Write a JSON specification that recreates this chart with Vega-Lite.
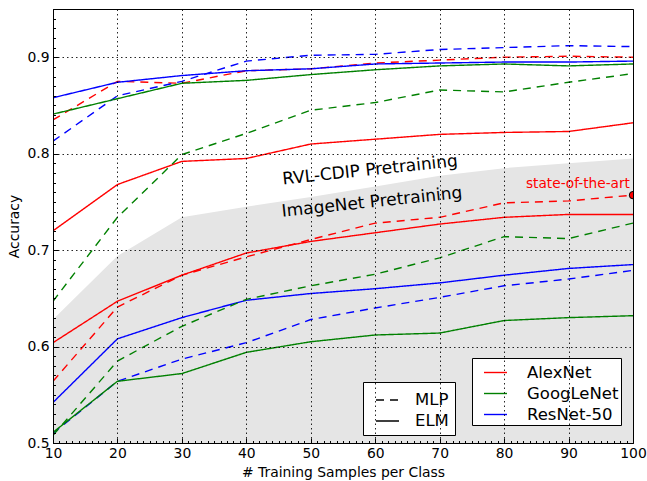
{
  "$schema": "https://vega.github.io/schema/vega-lite/v6.json",
  "width": 580,
  "height": 434,
  "autosize": {"type": "none"},
  "padding": {"left": 53, "top": 9, "right": 14, "bottom": 38},
  "background": "white",
  "config": {
    "font": "DejaVu Sans",
    "view": {"stroke": "black", "strokeWidth": 1}
  },
  "datasets": {
    "shade": [
      {"x": 10, "top": 0.628}, {"x": 20, "top": 0.694}, {"x": 30, "top": 0.734}, {"x": 40, "top": 0.745},
      {"x": 50, "top": 0.755}, {"x": 60, "top": 0.766}, {"x": 70, "top": 0.777}, {"x": 80, "top": 0.785},
      {"x": 90, "top": 0.79}, {"x": 100, "top": 0.795}
    ],
    "sota": [{"x": 100, "a": 0.757, "label": "state-of-the-art"}],
    "acc": [
      {"n": "AlexNet", "m": "ELM", "p": "RVL-CDIP", "x": 10, "a": 0.72},
      {"n": "AlexNet", "m": "ELM", "p": "RVL-CDIP", "x": 20, "a": 0.768},
      {"n": "AlexNet", "m": "ELM", "p": "RVL-CDIP", "x": 30, "a": 0.792},
      {"n": "AlexNet", "m": "ELM", "p": "RVL-CDIP", "x": 40, "a": 0.795},
      {"n": "AlexNet", "m": "ELM", "p": "RVL-CDIP", "x": 50, "a": 0.81},
      {"n": "AlexNet", "m": "ELM", "p": "RVL-CDIP", "x": 60, "a": 0.815},
      {"n": "AlexNet", "m": "ELM", "p": "RVL-CDIP", "x": 70, "a": 0.82},
      {"n": "AlexNet", "m": "ELM", "p": "RVL-CDIP", "x": 80, "a": 0.822},
      {"n": "AlexNet", "m": "ELM", "p": "RVL-CDIP", "x": 90, "a": 0.823},
      {"n": "AlexNet", "m": "ELM", "p": "RVL-CDIP", "x": 100, "a": 0.832},
      {"n": "AlexNet", "m": "MLP", "p": "RVL-CDIP", "x": 10, "a": 0.835},
      {"n": "AlexNet", "m": "MLP", "p": "RVL-CDIP", "x": 20, "a": 0.875},
      {"n": "AlexNet", "m": "MLP", "p": "RVL-CDIP", "x": 30, "a": 0.873},
      {"n": "AlexNet", "m": "MLP", "p": "RVL-CDIP", "x": 40, "a": 0.886},
      {"n": "AlexNet", "m": "MLP", "p": "RVL-CDIP", "x": 50, "a": 0.888},
      {"n": "AlexNet", "m": "MLP", "p": "RVL-CDIP", "x": 60, "a": 0.894},
      {"n": "AlexNet", "m": "MLP", "p": "RVL-CDIP", "x": 70, "a": 0.897},
      {"n": "AlexNet", "m": "MLP", "p": "RVL-CDIP", "x": 80, "a": 0.9},
      {"n": "AlexNet", "m": "MLP", "p": "RVL-CDIP", "x": 90, "a": 0.901},
      {"n": "AlexNet", "m": "MLP", "p": "RVL-CDIP", "x": 100, "a": 0.9},
      {"n": "ResNet-50", "m": "ELM", "p": "RVL-CDIP", "x": 10, "a": 0.858},
      {"n": "ResNet-50", "m": "ELM", "p": "RVL-CDIP", "x": 20, "a": 0.874},
      {"n": "ResNet-50", "m": "ELM", "p": "RVL-CDIP", "x": 30, "a": 0.881},
      {"n": "ResNet-50", "m": "ELM", "p": "RVL-CDIP", "x": 40, "a": 0.886},
      {"n": "ResNet-50", "m": "ELM", "p": "RVL-CDIP", "x": 50, "a": 0.888},
      {"n": "ResNet-50", "m": "ELM", "p": "RVL-CDIP", "x": 60, "a": 0.893},
      {"n": "ResNet-50", "m": "ELM", "p": "RVL-CDIP", "x": 70, "a": 0.894},
      {"n": "ResNet-50", "m": "ELM", "p": "RVL-CDIP", "x": 80, "a": 0.895},
      {"n": "ResNet-50", "m": "ELM", "p": "RVL-CDIP", "x": 90, "a": 0.895},
      {"n": "ResNet-50", "m": "ELM", "p": "RVL-CDIP", "x": 100, "a": 0.896},
      {"n": "ResNet-50", "m": "MLP", "p": "RVL-CDIP", "x": 10, "a": 0.813},
      {"n": "ResNet-50", "m": "MLP", "p": "RVL-CDIP", "x": 20, "a": 0.86},
      {"n": "ResNet-50", "m": "MLP", "p": "RVL-CDIP", "x": 30, "a": 0.875},
      {"n": "ResNet-50", "m": "MLP", "p": "RVL-CDIP", "x": 40, "a": 0.896},
      {"n": "ResNet-50", "m": "MLP", "p": "RVL-CDIP", "x": 50, "a": 0.902},
      {"n": "ResNet-50", "m": "MLP", "p": "RVL-CDIP", "x": 60, "a": 0.903},
      {"n": "ResNet-50", "m": "MLP", "p": "RVL-CDIP", "x": 70, "a": 0.908},
      {"n": "ResNet-50", "m": "MLP", "p": "RVL-CDIP", "x": 80, "a": 0.91},
      {"n": "ResNet-50", "m": "MLP", "p": "RVL-CDIP", "x": 90, "a": 0.912},
      {"n": "ResNet-50", "m": "MLP", "p": "RVL-CDIP", "x": 100, "a": 0.911},
      {"n": "GoogLeNet", "m": "ELM", "p": "RVL-CDIP", "x": 10, "a": 0.841},
      {"n": "GoogLeNet", "m": "ELM", "p": "RVL-CDIP", "x": 20, "a": 0.857},
      {"n": "GoogLeNet", "m": "ELM", "p": "RVL-CDIP", "x": 30, "a": 0.873},
      {"n": "GoogLeNet", "m": "ELM", "p": "RVL-CDIP", "x": 40, "a": 0.876},
      {"n": "GoogLeNet", "m": "ELM", "p": "RVL-CDIP", "x": 50, "a": 0.882},
      {"n": "GoogLeNet", "m": "ELM", "p": "RVL-CDIP", "x": 60, "a": 0.887},
      {"n": "GoogLeNet", "m": "ELM", "p": "RVL-CDIP", "x": 70, "a": 0.891},
      {"n": "GoogLeNet", "m": "ELM", "p": "RVL-CDIP", "x": 80, "a": 0.893},
      {"n": "GoogLeNet", "m": "ELM", "p": "RVL-CDIP", "x": 90, "a": 0.891},
      {"n": "GoogLeNet", "m": "ELM", "p": "RVL-CDIP", "x": 100, "a": 0.893},
      {"n": "GoogLeNet", "m": "MLP", "p": "RVL-CDIP", "x": 10, "a": 0.647},
      {"n": "GoogLeNet", "m": "MLP", "p": "RVL-CDIP", "x": 20, "a": 0.734},
      {"n": "GoogLeNet", "m": "MLP", "p": "RVL-CDIP", "x": 30, "a": 0.799},
      {"n": "GoogLeNet", "m": "MLP", "p": "RVL-CDIP", "x": 40, "a": 0.821},
      {"n": "GoogLeNet", "m": "MLP", "p": "RVL-CDIP", "x": 50, "a": 0.845},
      {"n": "GoogLeNet", "m": "MLP", "p": "RVL-CDIP", "x": 60, "a": 0.853},
      {"n": "GoogLeNet", "m": "MLP", "p": "RVL-CDIP", "x": 70, "a": 0.866},
      {"n": "GoogLeNet", "m": "MLP", "p": "RVL-CDIP", "x": 80, "a": 0.864},
      {"n": "GoogLeNet", "m": "MLP", "p": "RVL-CDIP", "x": 90, "a": 0.874},
      {"n": "GoogLeNet", "m": "MLP", "p": "RVL-CDIP", "x": 100, "a": 0.883},
      {"n": "AlexNet", "m": "ELM", "p": "ImageNet", "x": 10, "a": 0.604},
      {"n": "AlexNet", "m": "ELM", "p": "ImageNet", "x": 20, "a": 0.647},
      {"n": "AlexNet", "m": "ELM", "p": "ImageNet", "x": 30, "a": 0.674},
      {"n": "AlexNet", "m": "ELM", "p": "ImageNet", "x": 40, "a": 0.697},
      {"n": "AlexNet", "m": "ELM", "p": "ImageNet", "x": 50, "a": 0.709},
      {"n": "AlexNet", "m": "ELM", "p": "ImageNet", "x": 60, "a": 0.718},
      {"n": "AlexNet", "m": "ELM", "p": "ImageNet", "x": 70, "a": 0.727},
      {"n": "AlexNet", "m": "ELM", "p": "ImageNet", "x": 80, "a": 0.734},
      {"n": "AlexNet", "m": "ELM", "p": "ImageNet", "x": 90, "a": 0.737},
      {"n": "AlexNet", "m": "ELM", "p": "ImageNet", "x": 100, "a": 0.737},
      {"n": "AlexNet", "m": "MLP", "p": "ImageNet", "x": 10, "a": 0.564},
      {"n": "AlexNet", "m": "MLP", "p": "ImageNet", "x": 20, "a": 0.641},
      {"n": "AlexNet", "m": "MLP", "p": "ImageNet", "x": 30, "a": 0.674},
      {"n": "AlexNet", "m": "MLP", "p": "ImageNet", "x": 40, "a": 0.693},
      {"n": "AlexNet", "m": "MLP", "p": "ImageNet", "x": 50, "a": 0.711},
      {"n": "AlexNet", "m": "MLP", "p": "ImageNet", "x": 60, "a": 0.728},
      {"n": "AlexNet", "m": "MLP", "p": "ImageNet", "x": 70, "a": 0.734},
      {"n": "AlexNet", "m": "MLP", "p": "ImageNet", "x": 80, "a": 0.749},
      {"n": "AlexNet", "m": "MLP", "p": "ImageNet", "x": 90, "a": 0.751},
      {"n": "AlexNet", "m": "MLP", "p": "ImageNet", "x": 100, "a": 0.757},
      {"n": "ResNet-50", "m": "ELM", "p": "ImageNet", "x": 10, "a": 0.542},
      {"n": "ResNet-50", "m": "ELM", "p": "ImageNet", "x": 20, "a": 0.608},
      {"n": "ResNet-50", "m": "ELM", "p": "ImageNet", "x": 30, "a": 0.63},
      {"n": "ResNet-50", "m": "ELM", "p": "ImageNet", "x": 40, "a": 0.648},
      {"n": "ResNet-50", "m": "ELM", "p": "ImageNet", "x": 50, "a": 0.655},
      {"n": "ResNet-50", "m": "ELM", "p": "ImageNet", "x": 60, "a": 0.66},
      {"n": "ResNet-50", "m": "ELM", "p": "ImageNet", "x": 70, "a": 0.666},
      {"n": "ResNet-50", "m": "ELM", "p": "ImageNet", "x": 80, "a": 0.674},
      {"n": "ResNet-50", "m": "ELM", "p": "ImageNet", "x": 90, "a": 0.681},
      {"n": "ResNet-50", "m": "ELM", "p": "ImageNet", "x": 100, "a": 0.685},
      {"n": "ResNet-50", "m": "MLP", "p": "ImageNet", "x": 10, "a": 0.51},
      {"n": "ResNet-50", "m": "MLP", "p": "ImageNet", "x": 20, "a": 0.564},
      {"n": "ResNet-50", "m": "MLP", "p": "ImageNet", "x": 30, "a": 0.587},
      {"n": "ResNet-50", "m": "MLP", "p": "ImageNet", "x": 40, "a": 0.604},
      {"n": "ResNet-50", "m": "MLP", "p": "ImageNet", "x": 50, "a": 0.628},
      {"n": "ResNet-50", "m": "MLP", "p": "ImageNet", "x": 60, "a": 0.64},
      {"n": "ResNet-50", "m": "MLP", "p": "ImageNet", "x": 70, "a": 0.651},
      {"n": "ResNet-50", "m": "MLP", "p": "ImageNet", "x": 80, "a": 0.663},
      {"n": "ResNet-50", "m": "MLP", "p": "ImageNet", "x": 90, "a": 0.67},
      {"n": "ResNet-50", "m": "MLP", "p": "ImageNet", "x": 100, "a": 0.679},
      {"n": "GoogLeNet", "m": "ELM", "p": "ImageNet", "x": 10, "a": 0.511},
      {"n": "GoogLeNet", "m": "ELM", "p": "ImageNet", "x": 20, "a": 0.564},
      {"n": "GoogLeNet", "m": "ELM", "p": "ImageNet", "x": 30, "a": 0.572},
      {"n": "GoogLeNet", "m": "ELM", "p": "ImageNet", "x": 40, "a": 0.594},
      {"n": "GoogLeNet", "m": "ELM", "p": "ImageNet", "x": 50, "a": 0.605},
      {"n": "GoogLeNet", "m": "ELM", "p": "ImageNet", "x": 60, "a": 0.612},
      {"n": "GoogLeNet", "m": "ELM", "p": "ImageNet", "x": 70, "a": 0.614},
      {"n": "GoogLeNet", "m": "ELM", "p": "ImageNet", "x": 80, "a": 0.627},
      {"n": "GoogLeNet", "m": "ELM", "p": "ImageNet", "x": 90, "a": 0.63},
      {"n": "GoogLeNet", "m": "ELM", "p": "ImageNet", "x": 100, "a": 0.632},
      {"n": "GoogLeNet", "m": "MLP", "p": "ImageNet", "x": 10, "a": 0.508},
      {"n": "GoogLeNet", "m": "MLP", "p": "ImageNet", "x": 20, "a": 0.585},
      {"n": "GoogLeNet", "m": "MLP", "p": "ImageNet", "x": 30, "a": 0.621},
      {"n": "GoogLeNet", "m": "MLP", "p": "ImageNet", "x": 40, "a": 0.649},
      {"n": "GoogLeNet", "m": "MLP", "p": "ImageNet", "x": 50, "a": 0.663},
      {"n": "GoogLeNet", "m": "MLP", "p": "ImageNet", "x": 60, "a": 0.675},
      {"n": "GoogLeNet", "m": "MLP", "p": "ImageNet", "x": 70, "a": 0.692},
      {"n": "GoogLeNet", "m": "MLP", "p": "ImageNet", "x": 80, "a": 0.714},
      {"n": "GoogLeNet", "m": "MLP", "p": "ImageNet", "x": 90, "a": 0.712},
      {"n": "GoogLeNet", "m": "MLP", "p": "ImageNet", "x": 100, "a": 0.728}
    ]
  },
  "layer": [
    {
      "data": {"name": "shade"},
      "mark": {"type": "area", "color": "#e5e5e5", "clip": true},
      "encoding": {
        "x": {
          "field": "x", "type": "quantitative",
          "scale": {"domain": [10, 100], "nice": false, "zero": false},
          "axis": {
            "title": "# Training Samples per Class",
            "titleFontSize": 13.9, "titleFontWeight": "normal", "titleColor": "black", "titlePadding": 3,
            "labelFontSize": 13.9, "labelColor": "black", "labelFlush": false, "labelOverlap": false,
            "format": "d",
            "tickCount": 1000,
            "values": [10,11,12,13,14,15,16,17,18,19,20,21,22,23,24,25,26,27,28,29,30,31,32,33,34,35,36,37,38,39,40,41,42,43,44,45,46,47,48,49,50,51,52,53,54,55,56,57,58,59,60,61,62,63,64,65,66,67,68,69,70,71,72,73,74,75,76,77,78,79,80,81,82,83,84,85,86,87,88,89,90,91,92,93,94,95,96,97,98,99,100],
            "labelExpr": "datum.value % 10 === 0 ? datum.label : ''",
            "tickSize": {"condition": {"test": "datum.value % 10 === 0", "value": -5}, "value": -2.5},
            "labelPadding": 8,
            "tickColor": "black", "tickWidth": 1, "domainColor": "black",
            "grid": true, "gridColor": "black", "gridDash": [1.5, 3], "gridWidth": 1,
            "gridOpacity": {"condition": {"test": "datum.value % 10 === 0", "value": 0.85}, "value": 0},
            "zindex": 1
          }
        },
        "y": {
          "field": "top", "type": "quantitative",
          "scale": {"domain": [0.5, 0.95], "nice": false, "zero": false},
          "axis": {
            "title": "Accuracy",
            "titleFontSize": 13.9, "titleFontWeight": "normal", "titleColor": "black", "titlePadding": 5,
            "labelFontSize": 13.9, "labelColor": "black", "labelOverlap": false, "labelFlush": false,
            "format": ".1f",
            "tickCount": 1000,
            "values": [0.5,0.51,0.52,0.53,0.54,0.55,0.56,0.57,0.58,0.59,0.6,0.61,0.62,0.63,0.64,0.65,0.66,0.67,0.68,0.69,0.7,0.71,0.72,0.73,0.74,0.75,0.76,0.77,0.78,0.79,0.8,0.81,0.82,0.83,0.84,0.85,0.86,0.87,0.88,0.89,0.9,0.91,0.92,0.93,0.94,0.95],
            "labelExpr": "abs(datum.value * 10 - round(datum.value * 10)) < 0.000001 ? datum.label : ''",
            "tickSize": {"condition": {"test": "abs(datum.value * 10 - round(datum.value * 10)) < 0.000001", "value": -5}, "value": -2.5},
            "labelPadding": 9,
            "tickColor": "black", "tickWidth": 1, "domainColor": "black",
            "grid": true, "gridColor": "black", "gridDash": [1.5, 3], "gridWidth": 1,
            "gridOpacity": {"condition": {"test": "abs(datum.value * 10 - round(datum.value * 10)) < 0.000001", "value": 0.85}, "value": 0},
            "zindex": 1
          }
        },
        "y2": {"datum": 0.5}
      }
    },
    {
      "data": {"name": "acc"},
      "mark": {"type": "line", "strokeWidth": 1.4, "clip": true},
      "encoding": {
        "x": {"field": "x", "type": "quantitative"},
        "y": {"field": "a", "type": "quantitative"},
        "detail": {"field": "p", "type": "nominal"},
        "color": {
          "field": "n", "type": "nominal",
          "scale": {"domain": ["AlexNet", "GoogLeNet", "ResNet-50"], "range": ["#ff0000", "#008000", "#0000ff"]},
          "legend": {
            "orient": "none", "legendX": 419, "legendY": 349, "title": null,
            "symbolType": "stroke", "symbolSize": 529, "symbolStrokeWidth": 1.4,
            "labelFontSize": 16.5, "labelColor": "black", "labelOffset": 19, "symbolOffset": 9,
            "padding": 2, "rowPadding": 0, "strokeColor": "black", "fillColor": "white", "cornerRadius": 0
          }
        },
        "strokeDash": {
          "field": "m", "type": "nominal",
          "scale": {"domain": ["MLP", "ELM"], "range": [[8, 6], [1, 0]]},
          "legend": {
            "orient": "none", "legendX": 310, "legendY": 373, "title": null,
            "symbolType": "stroke", "symbolSize": 529, "symbolStrokeWidth": 1.4, "symbolStrokeColor": "black",
            "labelFontSize": 16.5, "labelColor": "black", "labelOffset": 15, "symbolOffset": 6.5,
            "padding": 5.5, "rowPadding": 0, "strokeColor": "black", "fillColor": "white", "cornerRadius": 0
          }
        }
      }
    },
    {
      "data": {"name": "sota"},
      "mark": {"type": "point", "filled": true, "fill": "#ff0000", "stroke": "black", "strokeWidth": 1, "opacity": 1, "size": 55, "clip": true},
      "encoding": {
        "x": {"field": "x", "type": "quantitative"},
        "y": {"field": "a", "type": "quantitative"}
      }
    },
    {
      "data": {"name": "sota"},
      "mark": {"type": "text", "color": "#ff0000", "fontSize": 13.7, "align": "right", "baseline": "alphabetic", "dx": -3, "dy": -7.6},
      "encoding": {
        "x": {"field": "x", "type": "quantitative"},
        "y": {"field": "a", "type": "quantitative"},
        "text": {"field": "label"}
      }
    },
    {
      "data": {"values": [{}]},
      "mark": {"type": "text", "text": "RVL-CDIP Pretraining", "fontSize": 17, "color": "black", "align": "center", "baseline": "middle", "angle": 354},
      "encoding": {
        "x": {"datum": 59.2, "type": "quantitative"},
        "y": {"datum": 0.7827, "type": "quantitative"}
      }
    },
    {
      "data": {"values": [{}]},
      "mark": {"type": "text", "text": "ImageNet Pretraining", "fontSize": 17, "color": "black", "align": "center", "baseline": "middle", "angle": 354},
      "encoding": {
        "x": {"datum": 59.5, "type": "quantitative"},
        "y": {"datum": 0.7495, "type": "quantitative"}
      }
    }
  ]
}
